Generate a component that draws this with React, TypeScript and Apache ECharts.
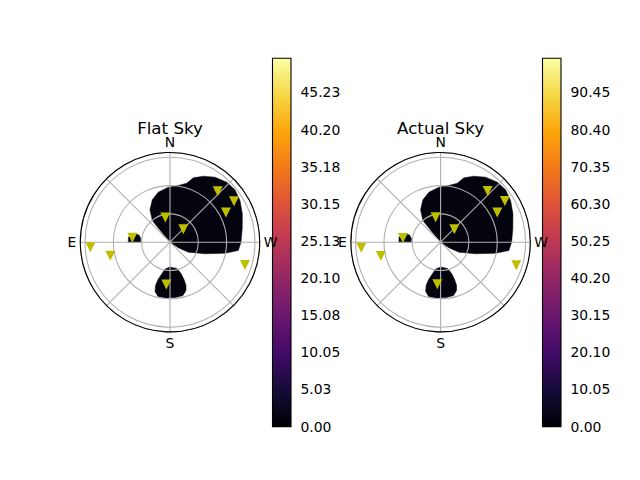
import React, { useEffect, useRef } from 'react';
import * as echarts from 'echarts';

// ---- data ----
const skyTitles = ['Flat Sky', 'Actual Sky'];
const compassAngles = [0, 90, 180, 270];
const compassLabels = ['N', 'E', 'S', 'W'];
const zenithMax = 95;
const zenithStep = 30;
const azimuthStep = 45;

// stars: [zenith angle, azimuth]
const flatStars = [
  [73.9, 316.9], [80.5, 302.6], [67.1, 298.0], [26.6, 10.8], [19.7, 314.3],
  [40.2, 83.3], [84.5, 93.6], [64.8, 102.8], [83.0, 253.0], [45.0, 175.0],
];
const actualStars = [
  [73.7, 317.5], [80.9, 302.7], [67.8, 297.6], [27.0, 11.3], [20.0, 313.5],
  [40.2, 83.5], [84.2, 94.0], [64.9, 102.9], [83.8, 253.1], [44.6, 175.5],
];

// zero-valued regions: outlines as [zenith angle, azimuth]
const regionNorthWest = [
  [0, 45], [13.8, 39.7], [29.7, 39.2], [40.4, 31.7], [48.6, 22.7], [54.4, 13.2],
  [58.3, 1.8], [60.7, 351.7], [64.9, 344.2], [72.5, 340.1], [78.3, 333.2],
  [83.8, 325.3], [87.5, 316.6], [88.4, 308.9], [86.3, 300.8], [82.3, 291.4],
  [77.8, 280.5], [75.2, 270], [72.9, 263.1], [59.4, 258.7], [39.1, 251.7],
  [22.1, 241.4], [10.6, 236],
];
const regionEast = [
  [44.2, 90], [44.3, 83.5], [42.2, 78.8], [38.1, 76.5], [33.7, 76.9], [31.2, 82.8], [31.0, 90],
];
const regionSouth = [
  [26.3, 180], [28.8, 194.9], [35.2, 199.4], [42.2, 200.6], [48.9, 200.3],
  [53.9, 198.3], [58.1, 193.7], [58.9, 186.2], [59.2, 175.9], [58.9, 167.5],
  [54.5, 163.1], [48.4, 161.5], [41.5, 162.2], [34.2, 165.7], [28.9, 169.4],
];
const flatRegions = [regionNorthWest, regionEast, regionSouth];
const actualRegions = [regionNorthWest, regionEast, regionSouth];

const flatColorMax = 49.85;
const flatColorTicks = [0, 5.03, 10.05, 15.08, 20.1, 25.13, 30.15, 35.18, 40.2, 45.23];
const actualColorMax = 99.7;
const actualColorTicks = [0, 10.05, 20.1, 30.15, 40.2, 50.25, 60.3, 70.35, 80.4, 90.45];

const inferno = ['#000004', '#160b39', '#420a68', '#6a176e', '#932667', '#bc3754',
  '#dd513a', '#f37819', '#fca50a', '#f6d746', '#fcffa4'];

// ---- layout ----
const FONT = 'DejaVu Sans';
const polarCenters = [[170, 242.2], [440.6, 242.2]];
const polarRadius = 89.7;
const barLefts = [272.5, 542.5];
const barTop = 58.3;
const barWidth = 18.5;
const barHeight = 368.3;

export default function App() {
  const ref = useRef<HTMLDivElement>(null);

  useEffect(() => {
    if (!ref.current) return;
    const chart = echarts.init(ref.current, undefined, { renderer: 'svg' });
    const gradient = () =>
      new echarts.graphic.LinearGradient(0, 1, 0, 0,
        inferno.map((c, i) => ({ offset: i / (inferno.length - 1), color: c })));

    const starsSets = [flatStars, actualStars];
    const regionSets = [flatRegions, actualRegions];
    const colorMaxes = [flatColorMax, actualColorMax];
    const colorTicks = [flatColorTicks, actualColorTicks];

    const polar = polarCenters.map((c) => ({ center: c, radius: polarRadius }));
    const angleAxis = [0, 1].map((i) => ({
      polarIndex: i,
      type: 'value',
      min: 0,
      max: 360,
      interval: azimuthStep,
      startAngle: 90,
      clockwise: false,
      z: 4,
      axisLine: { show: true, lineStyle: { color: '#000', width: 1.1 } },
      axisTick: { show: false },
      splitLine: { show: true, lineStyle: { color: '#b0b0b0', width: 1.1 } },
      axisLabel: {
        margin: 4,
        color: '#000',
        fontSize: 13.9,
        fontFamily: FONT,
        formatter: (v: number) => {
          const k = compassAngles.indexOf(v);
          return k >= 0 ? compassLabels[k] : '';
        },
      },
    }));
    const radiusAxis = [0, 1].map((i) => ({
      polarIndex: i,
      type: 'value',
      min: 0,
      max: zenithMax,
      interval: zenithStep,
      z: 3,
      axisLine: { show: false },
      axisTick: { show: false },
      axisLabel: { show: false },
      splitLine: { show: true, lineStyle: { color: '#b0b0b0', width: 1.1 } },
    }));

    const grid = barLefts.map((l) => ({ left: l, top: barTop, width: barWidth, height: barHeight }));
    const xAxis = [0, 1].map((i) => ({ gridIndex: i, type: 'value', min: 0, max: 1, show: false }));
    const yAxis = [0, 1].map((i) => ({
      gridIndex: i,
      type: 'value',
      min: 0,
      max: colorMaxes[i],
      position: 'right',
      axisLine: { show: false },
      splitLine: { show: false },
      axisTick: {
        show: true,
        length: 4.9,
        lineStyle: { color: '#000', width: 1.1 },
        customValues: colorTicks[i],
      },
      axisLabel: {
        show: true,
        margin: 9.5,
        color: '#000',
        fontSize: 13.9,
        fontFamily: FONT,
        customValues: colorTicks[i],
        formatter: (v: number) => v.toFixed(2),
      },
    }));

    const series: any[] = [];
    [0, 1].forEach((i) => {
      const regions = regionSets[i];
      series.push({
        type: 'custom',
        coordinateSystem: 'polar',
        polarIndex: i,
        z: 2,
        silent: true,
        data: regions.map((_, k) => [0, 0, k]),
        renderItem: (params: any, api: any) => {
          const outline = regions[params.dataIndex];
          const pts = outline.map((p) => api.coord([p[0], p[1]]));
          return {
            type: 'polygon',
            shape: { points: pts },
            style: { fill: '#04040e', stroke: '#04040e', lineWidth: 0.5 },
          };
        },
      });
      series.push({
        type: 'scatter',
        coordinateSystem: 'polar',
        polarIndex: i,
        z: 6,
        symbol: 'triangle',
        symbolRotate: 180,
        symbolSize: 10,
        itemStyle: { color: '#bfbf00', opacity: 1 },
        data: starsSets[i],
      });
      series.push({
        type: 'custom',
        coordinateSystem: 'cartesian2d',
        xAxisIndex: i,
        yAxisIndex: i,
        clip: false,
        silent: true,
        data: [[0, 0, 1, colorMaxes[i]]],
        renderItem: (_params: any, api: any) => {
          const p0 = api.coord([api.value(0), api.value(1)]);
          const p1 = api.coord([api.value(2), api.value(3)]);
          return {
            type: 'rect',
            shape: { x: p0[0], y: p1[1], width: p1[0] - p0[0], height: p0[1] - p1[1] },
            style: { fill: gradient(), stroke: '#000', lineWidth: 1.1 },
          };
        },
      });
    });

    const graphic = skyTitles.map((t, i) => ({
      type: 'text',
      x: polarCenters[i][0],
      y: 128.5,
      style: {
        text: t,
        textAlign: 'center',
        textVerticalAlign: 'middle',
        fontSize: 16.67,
        fontFamily: FONT,
        fill: '#000',
      },
    }));

    chart.setOption({
      animation: false,
      backgroundColor: '#fff',
      polar,
      angleAxis,
      radiusAxis,
      grid,
      xAxis,
      yAxis,
      series,
      graphic,
    });
    return () => chart.dispose();
  }, []);

  return (
    <div
      ref={ref}
      style={{ position: 'fixed', left: 0, top: 0, width: 640, height: 480, background: '#fff' }}
    />
  );
}
